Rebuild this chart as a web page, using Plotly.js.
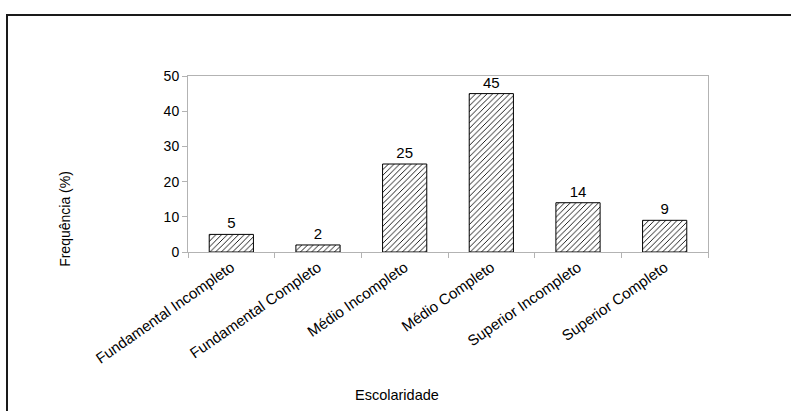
<!DOCTYPE html>
<html>
<head>
<meta charset="utf-8">
<script src="https://cdn.plot.ly/plotly-3.0.1.min.js"></script>
<style>
  html, body { margin: 0; padding: 0; background: #fff; }
  #wrap { position: relative; width: 791px; height: 411px; overflow: hidden; }
  #frame { position: absolute; left: 6px; top: 14px; width: 800px; height: 420px;
           border-top: 2px solid #1a1a1a; border-left: 2px solid #1a1a1a; box-sizing: border-box; pointer-events: none; z-index: 5; }
  #chart { position: absolute; left: 0; top: 0; width: 791px; height: 411px; }
</style>
</head>
<body>
<div id="wrap">
  <div id="chart"></div>
  <div id="frame"></div>
</div>
<script>
const categories = ["Fundamental Incompleto", "Fundamental Completo", "Médio Incompleto", "Médio Completo", "Superior Incompleto", "Superior Completo"];
const values = [5, 2, 25, 45, 14, 9];
const yTicks = [0, 10, 20, 30, 40, 50];
const xTitle = "Escolaridade";
const yTitle = "Frequência (%)";

const font = "Liberation Sans, Arial, sans-serif";
const gray = "#b3b3b3";

const trace = {
  type: "bar",
  x: categories,
  y: values,
  text: values.map(String),
  textposition: "outside",
  cliponaxis: false,
  textfont: { family: font, size: 15, color: "#000" },
  marker: {
    color: "#fff",
    line: { color: "#000", width: 1 },
    pattern: { shape: "/", fgcolor: "#000", bgcolor: "#fff", size: 4, solidity: 0.22 }
  },
  hoverinfo: "none"
};

const layout = {
  width: 791, height: 411,
  margin: { l: 188, r: 83, t: 76, b: 159 },
  paper_bgcolor: "#fff", plot_bgcolor: "#fff",
  showlegend: false,
  bargap: 0.49,
  font: { family: font, size: 14, color: "#000" },
  xaxis: {
    type: "category",
    showline: true, mirror: true, linecolor: gray, linewidth: 1,
    ticks: "outside", tickson: "boundaries", ticklen: 5, tickcolor: gray,
    tickangle: -35,
    tickfont: { family: font, size: 15, color: "#000" },
    showgrid: false, zeroline: false, automargin: false
  },
  yaxis: {
    range: [0, 50], tickvals: yTicks,
    showline: true, mirror: true, linecolor: gray, linewidth: 1,
    ticks: "outside", ticklen: 5, tickcolor: gray,
    tickfont: { family: font, size: 14, color: "#000" },
    showgrid: false, zeroline: false, automargin: false
  },
  annotations: [
    { text: xTitle, xref: "paper", yref: "paper", x: 0.402, y: -0.811, xanchor: "center", yanchor: "middle",
      showarrow: false, font: { family: font, size: 14.5, color: "#000" } },
    { text: yTitle, xref: "paper", yref: "paper", x: -0.237, y: 0.187, xanchor: "center", yanchor: "middle",
      textangle: -90, showarrow: false, font: { family: font, size: 14, color: "#000" } }
  ]
};

Plotly.newPlot("chart", [trace], layout, { staticPlot: true, displayModeBar: false });
</script>
</body>
</html>
